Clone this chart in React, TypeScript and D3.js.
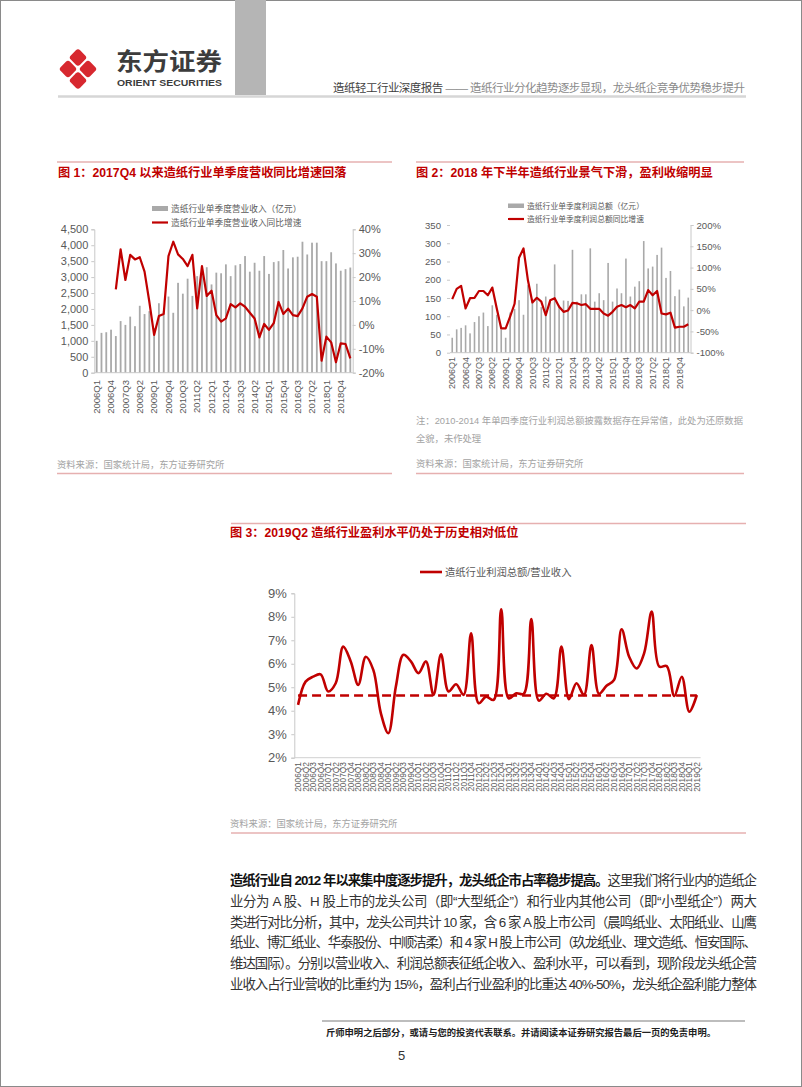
import React, { useEffect, useRef } from "react";
import * as d3 from "d3";

// quarter categories 2006Q1 .. 2019Q2
const years = [2006, 2007, 2008, 2009, 2010, 2011, 2012, 2013, 2014, 2015, 2016, 2017, 2018, 2019];
const quarters = years.flatMap((y) => ["Q1", "Q2", "Q3", "Q4"].map((q) => y + q)).slice(0, 54);

// 图1: 单季度营业收入(亿元) 与 同比增速(%)
const revenue = [
  1000, 1250, 1270, 1350, 1150, 1620, 1500, 1760, 1460, 2100, 1840, 1930, 1400, 2180,
  1925, 2390, 1880, 2820, 2480, 2950, 2410, 3030, 3090, 3310, 2770, 3140, 3120, 3400,
  3030, 3370, 3410, 3660, 3170, 3450, 3200, 3660, 3100, 3470, 3500, 3850, 3270, 3620,
  3640, 4110, 3710, 4080, 4080, 3500, 3500, 3780, 3430, 3200, 3250, 3300,
];
const revenueGrowth = [
  null, null, null, null, 14.9, 31.6, 18.8, 29.3, 27.4, 28.3, 22.3, 9.7, -4.2, 3.7,
  4.6, 28.8, 34.8, 29.5, 27.6, 24.6, 29.3, 6.9, 24.6, 12.1, 14.3, 4.1, 1.4, 2.7,
  8.7, 7.3, 9.0, 7.6, 5.1, 2.7, -5.2, 0.4, -2.1, 0.7, 9.6, 4.6, 6.8, 4.1,
  3.7, 6.9, 11.8, 12.9, 11.8, -15, -4.9, -7.3, -15.6, -7.7, -8, -14,
];

// 图2: 单季度利润总额(亿元) 与 同比增速(%)
const profit = [
  41, 64, 68, 75, 53, 84, 100, 110, 73, 130, 104, 63, 41, 110,
  120, 144, 104, 185, 142, 189, 125, 154, 143, 242, 130, 143, 142, 282,
  140, 160, 160, 286, 140, 163, 144, 246, 140, 176, 163, 258, 154, 181,
  196, 306, 231, 236, 268, 288, 205, 224, 155, 173, 127, 151,
];
const profitGrowth = [
  26, 50, 57, 4, 28, 29, 45, 45, 35, 53, 4, -43, -43, -15,
  15, 123, 145, 70, 18, 29, 20, -12, 23, 28, 8, -4, -1, 17,
  16, 12, 14, 3, 3, 3, -8, -13, -4, 8, 12, 7, 12, 4,
  20, 20, 47, 35, 45, -8, -10, -6, -41, -39, -39, -33,
];

// 图3: 利润总额/营业收入(%)
const margin = [
  4.25, 5.24, 5.45, 5.55, 4.82, 5.17, 6.73, 6.1, 5.1, 6.3, 5.74, 3.9, 3.04, 5.03,
  6.38, 6.1, 5.6, 6.1, 4.67, 6.4, 4.82, 5.13, 4.67, 7.3, 4.32, 4.6, 4.46, 8.32,
  4.53, 4.74, 4.72, 7.9, 4.43, 4.72, 4.53, 6.73, 4.49, 5.17, 4.67, 6.8, 4.72, 5.06,
  5.31, 7.47, 6.3, 5.8, 6.45, 8.22, 5.88, 5.9, 4.63, 5.45, 3.96, 4.67,
];
const marginAvg = 4.65;

const paragraph = [
  ["造纸行业自 2012 年以来集中度逐步提升，龙头纸企市占率稳步提高。", "这里我们将行业内的造纸企"],
  ["", "业分为 A 股、H 股上市的龙头公司（即“大型纸企”）和行业内其他公司（即“小型纸企”）两大"],
  ["", "类进行对比分析，其中，龙头公司共计 10 家，含 6 家 A 股上市公司（晨鸣纸业、太阳纸业、山鹰"],
  ["", "纸业、博汇纸业、华泰股份、中顺洁柔）和 4 家 H 股上市公司（玖龙纸业、理文造纸、恒安国际、"],
  ["", "维达国际）。分别以营业收入、利润总额表征纸企收入、盈利水平，可以看到，现阶段龙头纸企营"],
  ["", "业收入占行业营收的比重约为 15%，盈利占行业盈利的比重达 40%-50%，龙头纸企盈利能力整体"],
];

const RED = "#c00000";
const GREY_TXT = "#595959";
const SRC = "#a3a3a3";
const FONT = '"Liberation Sans", "Noto Sans CJK SC", sans-serif';

const App = () => {
  const ref = useRef(null);

  useEffect(() => {
    const svg = d3.select(ref.current);
    svg.selectAll("*").remove();
    svg.style("font-family", FONT);

    const text = (x, y, s, size, fill, extra = {}) => {
      const t = svg
        .append("text")
        .attr("x", x)
        .attr("y", y)
        .attr("font-size", size)
        .attr("fill", fill)
        .text(s);
      Object.entries(extra).forEach(([k, v]) => t.attr(k, v));
      return t;
    };
    const hline = (x1, x2, y, color, w) =>
      svg.append("line").attr("x1", x1).attr("x2", x2).attr("y1", y).attr("y2", y)
        .attr("stroke", color).attr("stroke-width", w);

    // page frame + header
    svg.append("rect").attr("x", 0.5).attr("y", 0.5).attr("width", 801).attr("height", 1086)
      .attr("fill", "#fff").attr("stroke", "#8a8a8a");
    svg.append("rect").attr("x", 235).attr("y", 0).attr("width", 31).attr("height", 95).attr("fill", "#b5b5b5");
    hline(58, 746, 96.5, "#d6d6d6", 2.5);

    const logo = svg.append("g").attr("transform", "translate(78,69)");
    [[0, -11.5], [0, 11.5], [-10, 0], [10, 0]].forEach(([dx, dy]) => {
      logo.append("rect").attr("x", -6.6).attr("y", -6.6).attr("width", 13.2).attr("height", 13.2)
        .attr("rx", 3).attr("fill", "#d7282f")
        .attr("transform", `translate(${dx},${dy}) rotate(45)`);
    });
    text(116, 70, "东方证券", 23.5, "#3c3c3c", { "font-weight": "bold", "font-family": '"Noto Sans CJK SC", sans-serif', textLength: 106, lengthAdjust: "spacingAndGlyphs" });
    text(117, 86, "ORIENT SECURITIES", 9.6, "#3c3c3c", { "font-weight": "bold", textLength: 105, lengthAdjust: "spacingAndGlyphs" });
    const head = text(333, 92, "", 11.5, "#404040");
    head.append("tspan").text("造纸轻工行业深度报告 ");
    head.append("tspan").attr("fill", "#8a8a8a").text("—— 造纸行业分化趋势逐步显现，龙头纸企竞争优势稳步提升");
    head.attr("textLength", 412);

    const styleAxis = (g, size) => {
      g.selectAll(".domain").attr("stroke", "#c8c8c8");
      g.selectAll(".tick line").attr("stroke", "#c8c8c8");
      g.selectAll(".tick text").attr("fill", GREY_TXT).attr("font-size", size).attr("font-family", FONT);
    };

    const xLabels = (xs, every, y, size) => {
      quarters.forEach((q, i) => {
        if (i % every !== 0) return;
        const cx = xs(q) + xs.bandwidth() / 2;
        svg.append("text").attr("x", cx).attr("y", y)
          .attr("transform", `rotate(-90,${cx},${y})`)
          .attr("text-anchor", "end").attr("dy", "0.35em")
          .attr("font-size", size).attr("fill", GREY_TXT).text(q);
      });
    };

    // ---------- 图1 ----------
    hline(57, 392, 162, "#e6b0b0", 1.5);
    text(58, 177, "图 1：2017Q4 以来造纸行业单季度营收同比增速回落", 12.2, RED, { "font-weight": "bold" });
    const b1 = { l: 94.3, r: 352.7, t: 229.3, b: 372.7 };
    const x1 = d3.scaleBand().domain(quarters).range([b1.l, b1.r]);
    const y1 = d3.scaleLinear().domain([0, 4500]).range([b1.b, b1.t]);
    const y1r = d3.scaleLinear().domain([-20, 40]).range([b1.b, b1.t]);
    svg.append("g").selectAll("rect").data(revenue).enter().append("rect")
      .attr("x", (d, i) => x1(quarters[i]) + x1.bandwidth() / 2 - 0.9)
      .attr("width", 1.8)
      .attr("y", (d) => y1(d))
      .attr("height", (d) => y1(0) - y1(d))
      .attr("fill", "#a9a9a9");
    const a1l = svg.append("g").attr("transform", `translate(${b1.l},0)`)
      .call(d3.axisLeft(y1).tickValues(d3.range(0, 4501, 500)).tickSize(3).tickPadding(3).tickFormat(d3.format(",")));
    styleAxis(a1l, 11);
    const a1r = svg.append("g").attr("transform", `translate(${b1.r},0)`)
      .call(d3.axisRight(y1r).tickValues(d3.range(-20, 41, 10)).tickSize(3).tickPadding(3).tickFormat((d) => d + "%"));
    styleAxis(a1r, 11);
    hline(b1.l, b1.r, b1.b, "#c8c8c8", 1);
    const line1 = d3.line()
      .defined((d) => d != null)
      .x((d, i) => x1(quarters[i]) + x1.bandwidth() / 2)
      .y((d) => y1r(d));
    svg.append("path").datum(revenueGrowth).attr("d", line1).attr("fill", "none")
      .attr("stroke", RED).attr("stroke-width", 2.2).attr("stroke-linejoin", "round");
    xLabels(x1, 3, 380, 9.5);
    svg.append("rect").attr("x", 152).attr("y", 206).attr("width", 16).attr("height", 5).attr("fill", "#a9a9a9");
    text(171, 208.5, "造纸行业单季度营业收入（亿元）", 8.7, GREY_TXT, { "dominant-baseline": "central" });
    hline(152, 168, 222.5, RED, 2.2);
    text(171, 222.5, "造纸行业单季度营业收入同比增速", 8.7, GREY_TXT, { "dominant-baseline": "central" });
    text(57, 468, "资料来源：国家统计局，东方证券研究所", 9.3, SRC);
    hline(57, 392, 473.5, "#e6b0b0", 1.5);

    // ---------- 图2 ----------
    hline(416, 744, 162, "#e6b0b0", 1.5);
    text(416, 177, "图 2：2018 年下半年造纸行业景气下滑，盈利收缩明显", 12.2, RED, { "font-weight": "bold" });
    const b2 = { l: 450, r: 690.5, t: 225, b: 352.7 };
    const x2 = d3.scaleBand().domain(quarters).range([b2.l, b2.r]);
    const y2 = d3.scaleLinear().domain([0, 350]).range([b2.b, b2.t]);
    const y2r = d3.scaleLinear().domain([-100, 200]).range([b2.b, b2.t]);
    svg.append("g").selectAll("rect").data(profit).enter().append("rect")
      .attr("x", (d, i) => x2(quarters[i]) + x2.bandwidth() / 2 - 0.8)
      .attr("width", 1.6)
      .attr("y", (d) => y2(d))
      .attr("height", (d) => y2(0) - y2(d))
      .attr("fill", "#a9a9a9");
    const a2l = svg.append("g").attr("transform", `translate(${b2.l},0)`)
      .call(d3.axisLeft(y2).tickValues(d3.range(0, 351, 50)).tickSize(3).tickPadding(6));
    styleAxis(a2l, 9.6);
    a2l.select(".domain").attr("stroke", "none");
    const a2r = svg.append("g").attr("transform", `translate(${b2.r},0)`)
      .call(d3.axisRight(y2r).tickValues(d3.range(-100, 201, 50)).tickSize(3).tickPadding(3).tickFormat((d) => d + "%"));
    styleAxis(a2r, 9.6);
    hline(b2.l, b2.r, b2.b, "#c8c8c8", 1);
    const line2 = d3.line()
      .x((d, i) => x2(quarters[i]) + x2.bandwidth() / 2)
      .y((d) => y2r(d));
    svg.append("path").datum(profitGrowth).attr("d", line2).attr("fill", "none")
      .attr("stroke", RED).attr("stroke-width", 2.2).attr("stroke-linejoin", "round");
    xLabels(x2, 3, 357, 9);
    svg.append("rect").attr("x", 508).attr("y", 203.5).attr("width", 16).attr("height", 4.5).attr("fill", "#a9a9a9");
    text(527, 206, "造纸行业单季度利润总额（亿元）", 7.8, GREY_TXT, { "dominant-baseline": "central" });
    hline(508, 524, 219, RED, 2.2);
    text(527, 219, "造纸行业单季度利润总额同比增速", 7.8, GREY_TXT, { "dominant-baseline": "central" });
    text(416, 424, "注：2010-2014 年单四季度行业利润总额披露数据存在异常值，此处为还原数据", 9.3, SRC, { textLength: 327 });
    text(416, 442, "全貌，未作处理", 9.3, SRC);
    text(416, 467, "资料来源：国家统计局，东方证券研究所", 9.3, SRC);
    hline(416, 744, 473.5, "#e6b0b0", 1.5);

    // ---------- 图3 ----------
    hline(231, 746, 523.5, "#e6b0b0", 1.5);
    text(230, 537, "图 3：2019Q2 造纸行业盈利水平仍处于历史相对低位", 12.2, RED, { "font-weight": "bold" });
    const b3 = { l: 294.3, r: 700.6, t: 593.3, b: 757.7 };
    const x3 = d3.scaleBand().domain(quarters).range([b3.l, b3.r]);
    const y3 = d3.scaleLinear().domain([2, 9]).range([b3.b, b3.t]);
    const a3l = svg.append("g").attr("transform", `translate(${b3.l},0)`)
      .call(d3.axisLeft(y3).tickValues(d3.range(2, 10, 1)).tickSize(3).tickPadding(4.5).tickFormat((d) => d + "%"));
    styleAxis(a3l, 13);
    hline(b3.l, b3.r, b3.b, "#d0d0d0", 1);
    const cx3 = (i) => x3(quarters[i]) + x3.bandwidth() / 2;
    svg.append("line")
      .attr("x1", cx3(0)).attr("x2", cx3(quarters.length - 1))
      .attr("y1", y3(marginAvg)).attr("y2", y3(marginAvg))
      .attr("stroke", RED).attr("stroke-width", 2.4).attr("stroke-dasharray", "9,5");
    const line3 = d3.line()
      .curve(d3.curveCatmullRom.alpha(0.5))
      .x((d, i) => cx3(i))
      .y((d) => y3(d));
    svg.append("path").datum(margin).attr("d", line3).attr("fill", "none")
      .attr("stroke", RED).attr("stroke-width", 2.6).attr("stroke-linejoin", "round");
    xLabels(x3, 1, 762, 8.4);
    hline(420, 442, 572, RED, 2.6);
    text(445, 572, "造纸行业利润总额/营业收入", 10.3, GREY_TXT, { "dominant-baseline": "central" });
    text(230, 827, "资料来源：国家统计局，东方证券研究所", 9.3, SRC);
    hline(231, 746, 833, "#e6b0b0", 1.5);

    // ---------- 正文 ----------
    paragraph.forEach(([bold, rest], i) => {
      const t = text(230, 885 + i * 20.8, "", 13.4, "#333");
      if (bold) t.append("tspan").attr("font-weight", "bold").attr("fill", "#111").text(bold);
      t.append("tspan").text(rest);
      t.attr("textLength", 527).attr("lengthAdjust", "spacing");
    });

    // ---------- 页脚 ----------
    hline(322, 745, 1021, "#bdbdbd", 2);
    text(326, 1036, "斤师申明之后部分，或请与您的投资代表联系。并请阅读本证券研究报告最后一页的免责申明。", 9.3, "#222", { "font-weight": "bold", textLength: 390 });
    text(398, 1060, "5", 13, "#333");
  }, []);

  return (
    <div style={{ position: "absolute", left: 0, top: 0 }}>
      <svg ref={ref} width={802} height={1087}></svg>
    </div>
  );
};

export default App;
